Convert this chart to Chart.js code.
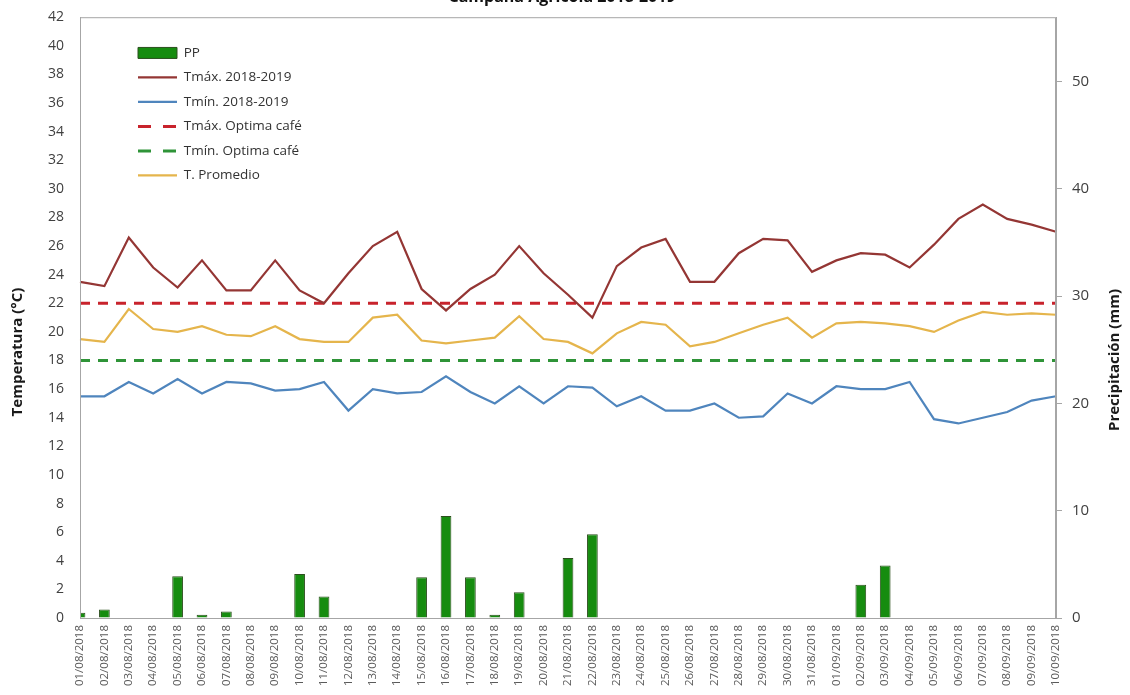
<!DOCTYPE html>
<html>
<head>
<meta charset="utf-8">
<script src="https://cdn.jsdelivr.net/npm/chart.js@4.4.1/dist/chart.umd.min.js"></script>
<style>
  html, body { margin: 0; padding: 0; background: #fff; }
  #wrap { position: relative; width: 1130px; height: 695px; overflow: hidden; }
  #chartBox { position: absolute; left: 0; top: -20px; width: 1130px; height: 715px; }
</style>
</head>
<body>
<div id="wrap"><div id="chartBox"><canvas id="climaChart"></canvas></div></div>
<script>
// fechas de la campaña (agosto - septiembre 2018)
const dates = [
    "01/08/2018", "02/08/2018", "03/08/2018", "04/08/2018", "05/08/2018", "06/08/2018",
    "07/08/2018", "08/08/2018", "09/08/2018", "10/08/2018", "11/08/2018", "12/08/2018",
    "13/08/2018", "14/08/2018", "15/08/2018", "16/08/2018", "17/08/2018", "18/08/2018",
    "19/08/2018", "20/08/2018", "21/08/2018", "22/08/2018", "23/08/2018", "24/08/2018",
    "25/08/2018", "26/08/2018", "27/08/2018", "28/08/2018", "29/08/2018", "30/08/2018",
    "31/08/2018", "01/09/2018", "02/09/2018", "03/09/2018", "04/09/2018", "05/09/2018",
    "06/09/2018", "07/09/2018", "08/09/2018", "09/09/2018", "10/09/2018"
];

// precipitación (mm)
const pp = [0.5, 0.8, 0, 0, 3.9, 0.3, 0.6, 0, 0, 4.1, 2.0, 0, 0, 0, 3.8, 9.5, 3.8, 0.3, 2.4, 0,
            5.6, 7.8, 0, 0, 0, 0, 0, 0, 0, 0, 0, 0, 3.1, 4.9, 0, 0, 0, 0, 0, 0, 0];

// temperaturas (°C)
const tmax = [23.5, 23.2, 26.6, 24.5, 23.1, 25.0, 22.9, 22.9, 25.0, 22.9,
              22.0, 24.1, 26.0, 27.0, 23.0, 21.5, 23.0, 24.0, 26.0, 24.1,
              22.6, 21.0, 24.6, 25.9, 26.5, 23.5, 23.5, 25.5, 26.5, 26.4,
              24.2, 25.0, 25.5, 25.4, 24.5, 26.1, 27.9, 28.9, 27.9, 27.5, 27.0];
const tmin = [15.5, 15.5, 16.5, 15.7, 16.7, 15.7, 16.5, 16.4, 15.9, 16.0,
              16.5, 14.5, 16.0, 15.7, 15.8, 16.9, 15.8, 15.0, 16.2, 15.0,
              16.2, 16.1, 14.8, 15.5, 14.5, 14.5, 15.0, 14.0, 14.1, 15.7,
              15.0, 16.2, 16.0, 16.0, 16.5, 13.9, 13.6, 14.0, 14.4, 15.2, 15.5];
const tprom = [19.5, 19.3, 21.6, 20.2, 20.0, 20.4, 19.8, 19.7, 20.4, 19.5,
               19.3, 19.3, 21.0, 21.2, 19.4, 19.2, 19.4, 19.6, 21.1, 19.5,
               19.3, 18.5, 19.9, 20.7, 20.5, 19.0, 19.3, 19.9, 20.5, 21.0,
               19.6, 20.6, 20.7, 20.6, 20.4, 20.0, 20.8, 21.4, 21.2, 21.3, 21.2];

// umbrales óptimos del café
const tmaxOptima = 22;
const tminOptima = 18;

// ejes
const tempAxis = [0, 42, 2];   // min, max, paso
const ppAxis = [0, 56, 10];

Chart.defaults.font.family = "'Open Sans', sans-serif";
Chart.defaults.color = "#404040";

const legendPos = { x: 47, y: 18 };

const extras = {
    id: "extras",
    afterLayout(chart) {
        // la leyenda va dentro del área del gráfico, arriba a la izquierda
        chart.legend.left = chart.chartArea.left + legendPos.x;
        chart.legend.top = chart.chartArea.top + legendPos.y;
    },
    afterDraw(chart) {
        const { ctx, chartArea: a } = chart;
        ctx.save();
        ctx.strokeStyle = "#a6a6a6";
        ctx.lineWidth = 1;
        ctx.strokeRect(a.left + 0.5, a.top + 0.5, a.width - 1, a.height);

        ctx.fillStyle = "#1a1a1a";
        ctx.font = "bold 15px 'Open Sans'";
        ctx.textAlign = "center";
        ctx.textBaseline = "middle";
        ctx.translate(18, 372);
        ctx.rotate(-Math.PI / 2);
        ctx.fillText("Temperatura (°C)", 0, 0);
        ctx.restore();

        ctx.save();
        ctx.fillStyle = "#1a1a1a";
        ctx.font = "bold 15px 'Open Sans'";
        ctx.textAlign = "center";
        ctx.textBaseline = "middle";
        ctx.translate(1115, 380);
        ctx.rotate(-Math.PI / 2);
        ctx.fillText("Precipitación (mm)", 0, 0);
        ctx.restore();
    }
};

const ctx = document.getElementById("climaChart").getContext("2d");

new Chart(ctx, {
    type: "bar",
    data: {
        labels: dates,
        datasets: [
            {
                type: "bar",
                label: "PP",
                data: pp,
                yAxisID: "y1",
                backgroundColor: "#168c0f",
                borderColor: "#2c4f1e",
                borderWidth: 1,
                categoryPercentage: 1,
                barPercentage: 0.44,
                pointStyle: "rect"
            },
            {
                type: "line",
                label: "Tmáx. 2018-2019",
                data: tmax,
                yAxisID: "y",
                borderColor: "#943634",
                borderWidth: 2.2,
                pointRadius: 0,
                tension: 0,
                pointStyle: "line"
            },
            {
                type: "line",
                label: "Tmín. 2018-2019",
                data: tmin,
                yAxisID: "y",
                borderColor: "#4f85bd",
                borderWidth: 2.2,
                pointRadius: 0,
                tension: 0,
                pointStyle: "line"
            },
            {
                type: "line",
                label: "Tmáx. Optima café",
                data: dates.map(() => tmaxOptima),
                yAxisID: "y",
                borderColor: "#c8232c",
                borderWidth: 3,
                borderDash: [10, 8],
                pointRadius: 0,
                pointStyle: "line"
            },
            {
                type: "line",
                label: "Tmín. Optima café",
                data: dates.map(() => tminOptima),
                yAxisID: "y",
                borderColor: "#2f9438",
                borderWidth: 3,
                borderDash: [10, 8],
                pointRadius: 0,
                pointStyle: "line"
            },
            {
                type: "line",
                label: "T. Promedio",
                data: tprom,
                yAxisID: "y",
                borderColor: "#e5b54c",
                borderWidth: 2.2,
                pointRadius: 0,
                tension: 0,
                pointStyle: "line"
            }
        ]
    },
    options: {
        responsive: true,
        maintainAspectRatio: false,
        animation: false,
        layout: { padding: { left: 34, right: 40, top: 0, bottom: 0 } },
        plugins: {
            title: {
                display: true,
                text: "Campaña Agrícola 2018-2019",
                color: "#111",
                font: { size: 16, weight: "bold" },
                padding: { top: 8, bottom: 10 }
            },
            legend: {
                position: "chartArea",
                align: "start",
                labels: {
                    usePointStyle: true,
                    pointStyleWidth: 39,
                    boxHeight: 11,
                    padding: 11,
                    color: "#333",
                    font: { size: 13.5 },
                    generateLabels(chart) {
                        const items = Chart.defaults.plugins.legend.labels.generateLabels(chart);
                        items.forEach(item => {
                            const ds = chart.data.datasets[item.datasetIndex];
                            // en la leyenda la línea discontinua muestra dos trazos
                            item.lineDash = ds.borderDash ? [13, 12] : [];
                        });
                        return items;
                    }
                }
            },
            tooltip: { enabled: false }
        },
        scales: {
            x: {
                offset: false,
                ticks: {
                    autoSkip: false,
                    minRotation: 90,
                    maxRotation: 90,
                    padding: 7,
                    color: "#5a5a5a",
                    font: { size: 11.5 }
                },
                grid: { drawOnChartArea: false, drawTicks: false },
                border: { color: "#a6a6a6" },
                afterFit(scale) { scale.height = 77; }
            },
            y: {
                position: "left",
                min: tempAxis[0],
                max: tempAxis[1],
                ticks: { stepSize: tempAxis[2], padding: 16, font: { size: 14 } },
                grid: { drawOnChartArea: false, drawTicks: false },
                border: { color: "#a6a6a6" },
                afterFit(scale) { scale.width = 46; }
            },
            y1: {
                position: "right",
                min: ppAxis[0],
                max: ppAxis[1],
                bounds: "data",
                ticks: { stepSize: ppAxis[2], padding: 10, font: { size: 15 } },
                grid: { drawOnChartArea: false, drawTicks: true, tickLength: 6, color: "#a6a6a6" },
                border: { color: "#a6a6a6" },
                afterBuildTicks(scale) {
                    scale.ticks = scale.ticks.filter(t => t.value % ppAxis[2] === 0);
                },
                afterFit(scale) { scale.width = 34; }
            }
        }
    },
    plugins: [extras]
});
</script>
</body>
</html>
